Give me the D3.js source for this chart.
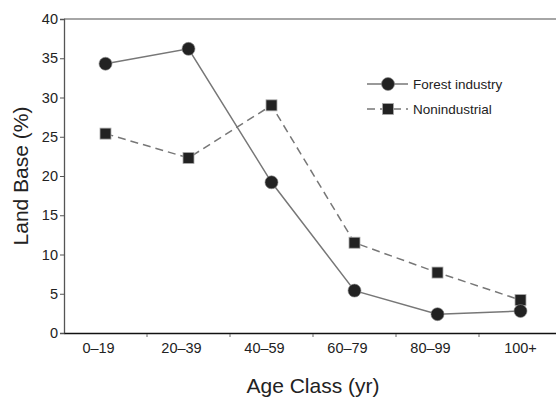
<!DOCTYPE html>
<html>
<head>
<meta charset="utf-8">
<script src="https://cdn.jsdelivr.net/npm/d3@7"></script>
<style>
  body { margin: 0; background: #fff; }
  text { font-family: "Liberation Sans", Arial, sans-serif; fill: #222; }
</style>
</head>
<body>
<div id="content"></div>
<script>
const age_classes = ["0–19", "20–39", "40–59", "60–79", "80–99", "100+"];
const forest_industry = [34.3, 36.2, 19.2, 5.4, 2.4, 2.8];
const nonindustrial = [25.4, 22.3, 29.0, 11.5, 7.7, 4.2];
const y_ticks = [0, 5, 10, 15, 20, 25, 30, 35, 40];

const width = 556, height = 398;
const plot_left = 64, plot_right = 562, plot_top = 19, plot_bottom = 333;

var svg = d3.select("#content")
    .append("svg")
    .attr("width", width)
    .attr("height", height);

var x = d3.scaleBand().domain(age_classes).range([plot_left, plot_right]);
var y = d3.scaleLinear().domain([0, 40]).range([plot_bottom, plot_top]);

// top frame line
svg.append("line")
    .attr("x1", plot_left).attr("x2", width)
    .attr("y1", plot_top).attr("y2", plot_top)
    .attr("stroke", "#888")
    .attr("stroke-width", 1.5);

// y axis
var y_axis = svg.append("g")
    .attr("transform", "translate(" + plot_left + ",0)")
    .call(d3.axisLeft(y).tickValues(y_ticks).tickSize(4).tickPadding(2));
y_axis.select(".domain").attr("stroke", "#555").attr("stroke-width", 1.3);
y_axis.selectAll(".tick line").attr("stroke", "#555");
y_axis.selectAll(".tick text")
    .style("font-size", "14.5px")
    .attr("fill", "#222");

// x axis
var x_axis = svg.append("g")
    .attr("transform", "translate(0," + plot_bottom + ")")
    .call(d3.axisBottom(x).tickSize(0).tickPadding(10));
x_axis.select(".domain").attr("stroke", "#111").attr("stroke-width", 1.5);
x_axis.selectAll(".tick text")
    .style("font-size", "14.5px")
    .attr("fill", "#222")
    .attr("dx", d => d.indexOf("–") >= 0 ? -7 : 0);

// little ticks between classes
svg.append("g")
    .selectAll("line")
    .data(age_classes.slice(1))
    .join("line")
    .attr("x1", d => x(d))
    .attr("x2", d => x(d))
    .attr("y1", plot_bottom + 1)
    .attr("y2", plot_bottom + 4)
    .attr("stroke", "#666");

// axis titles
svg.append("text")
    .attr("x", 313)
    .attr("y", 393)
    .attr("text-anchor", "middle")
    .style("font-size", "21px")
    .text("Age Class (yr)");

svg.append("text")
    .attr("transform", "translate(28," + ((plot_top + plot_bottom) / 2) + ") rotate(-90)")
    .attr("text-anchor", "middle")
    .style("font-size", "21px")
    .text("Land Base (%)");

var cx = d => x(d) + x.bandwidth() / 2;

var series_line = d3.line()
    .x((d, i) => cx(age_classes[i]))
    .y(d => y(d));

// nonindustrial dashed
svg.append("path")
    .datum(nonindustrial)
    .attr("d", series_line)
    .attr("fill", "none")
    .attr("stroke", "#777")
    .attr("stroke-width", 1.5)
    .attr("stroke-dasharray", "8,5");

// forest industry solid
svg.append("path")
    .datum(forest_industry)
    .attr("d", series_line)
    .attr("fill", "none")
    .attr("stroke", "#777")
    .attr("stroke-width", 1.5);

svg.append("g")
    .selectAll("rect")
    .data(nonindustrial)
    .join("rect")
    .attr("x", (d, i) => cx(age_classes[i]) - 5.5)
    .attr("y", d => y(d) - 5.5)
    .attr("width", 11)
    .attr("height", 11)
    .attr("fill", "#222")
    .attr("stroke", "#aaa")
    .attr("stroke-width", 0.8);

svg.append("g")
    .selectAll("circle")
    .data(forest_industry)
    .join("circle")
    .attr("cx", (d, i) => cx(age_classes[i]))
    .attr("cy", d => y(d))
    .attr("r", 6.5)
    .attr("fill", "#222")
    .attr("stroke", "#888")
    .attr("stroke-width", 0.6);

// legend
var legend = svg.append("g");
legend.append("line")
    .attr("x1", 367).attr("x2", 408)
    .attr("y1", 84).attr("y2", 84)
    .attr("stroke", "#777").attr("stroke-width", 1.5);
legend.append("circle")
    .attr("cx", 388).attr("cy", 84).attr("r", 6.5)
    .attr("fill", "#222").attr("stroke", "#888").attr("stroke-width", 0.6);
legend.append("text")
    .attr("x", 413).attr("y", 89)
    .style("font-size", "13.5px")
    .text("Forest industry");

legend.append("line")
    .attr("x1", 367).attr("x2", 408)
    .attr("y1", 109).attr("y2", 109)
    .attr("stroke", "#777").attr("stroke-width", 1.5)
    .attr("stroke-dasharray", "8,5");
legend.append("rect")
    .attr("x", 382.5).attr("y", 103.5).attr("width", 11).attr("height", 11)
    .attr("fill", "#222").attr("stroke", "#aaa").attr("stroke-width", 0.8);
legend.append("text")
    .attr("x", 413).attr("y", 114)
    .style("font-size", "13.5px")
    .text("Nonindustrial");
</script>
</body>
</html>
